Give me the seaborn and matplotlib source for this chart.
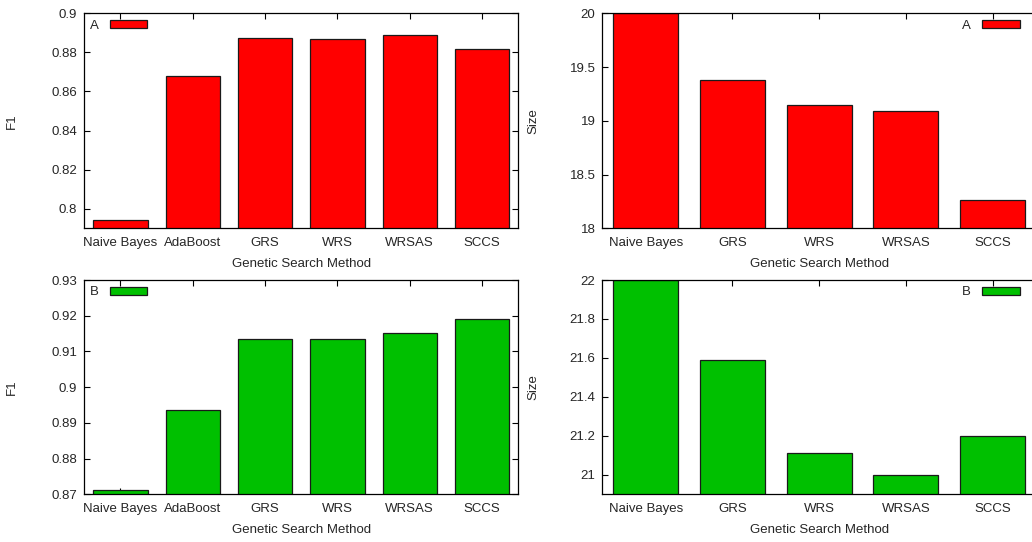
import matplotlib
matplotlib.use("Agg")
import matplotlib.pyplot as plt
import seaborn as sns
import pandas as pd
from matplotlib.patches import Patch

# Methods compared in each panel
methods_f1 = ["Naive Bayes", "AdaBoost", "GRS", "WRS", "WRSAS", "SCCS"]
methods_size = ["Naive Bayes", "GRS", "WRS", "WRSAS", "SCCS"]

# Dataset A
f1_a = [0.794, 0.868, 0.8875, 0.887, 0.889, 0.8815]
size_a = [20.0, 19.375, 19.145, 19.09, 18.265]

# Dataset B
f1_b = [0.8711, 0.8937, 0.9135, 0.9135, 0.9151, 0.9192]
size_b = [22.0, 21.59, 21.11, 21.0, 21.2]

RED = "#ff0000"
GREEN = "#00c000"
TEXT = "#262626"

sns.set_style("ticks")
plt.rcParams["font.family"] = ["Liberation Sans", "DejaVu Sans"]
plt.rcParams["font.size"] = 9

fig = plt.figure(figsize=(10.32, 5.42), dpi=100)
W, H = 1032.0, 542.0


def make_axes(left, top, right, bottom):
    return fig.add_axes([left / W, 1 - bottom / H, (right - left) / W, (bottom - top) / H])


panels = [
    # (axes box in px, categories, values, colour, label, ylim, yticks, ylabel, left column?)
    ((84.3, 13.3, 518.3, 228.3), methods_f1, f1_a, RED, "A", (0.79, 0.9),
     [0.8, 0.82, 0.84, 0.86, 0.88, 0.9], "F1", True),
    ((602.3, 13.3, 1036.0, 228.3), methods_size, size_a, RED, "A", (18, 20),
     [18, 18.5, 19, 19.5, 20], "Size", False),
    ((84.3, 280.0, 518.3, 494.3), methods_f1, f1_b, GREEN, "B", (0.87, 0.93),
     [0.87, 0.88, 0.89, 0.9, 0.91, 0.92, 0.93], "F1", True),
    ((602.3, 280.0, 1036.0, 494.3), methods_size, size_b, GREEN, "B", (20.9, 22),
     [21, 21.2, 21.4, 21.6, 21.8, 22], "Size", False),
]

for box, cats, vals, col, lab, ylim, yticks, ylabel, left_col in panels:
    ax = make_axes(*box)
    df = pd.DataFrame({"method": cats, "value": vals})
    sns.barplot(data=df, x="method", y="value", color=col, saturation=1,
                edgecolor="#1a1a1a", linewidth=0.9, width=0.75, ax=ax)
    ax.set_xlim(-0.5, len(cats) - 0.5)
    ax.set_ylim(*ylim)
    ax.set_yticks(yticks)
    ax.set_yticklabels([f"{t:g}" for t in yticks])
    for s in ax.spines.values():
        s.set_visible(True)
        s.set_color("#000000")
        s.set_linewidth(0.9)
    ax.tick_params(axis="both", direction="in", length=4, width=0.8,
                   top=True, right=left_col, colors="#000000",
                   labelcolor=TEXT, labelsize=9.5, pad=5)
    ax.tick_params(axis="x", pad=6)
    ax.set_xlabel("Genetic Search Method", color=TEXT, fontsize=9.5, labelpad=7)
    ax.set_ylabel(ylabel, color=TEXT, fontsize=9.5, labelpad=24 if left_col else 22)
    handle = Patch(facecolor=col, edgecolor="#1a1a1a", linewidth=0.9, label=lab)
    ax.legend(handles=[handle], loc="upper left" if left_col else "upper right",
              frameon=False, markerfirst=False,
              handlelength=2.85, handleheight=0.55, handletextpad=0.85,
              fontsize=9.5, labelcolor=TEXT, borderaxespad=0.0,
              bbox_to_anchor=(0.0, 0.995) if left_col else (0.975, 0.995))

fig.savefig("out.png", dpi=100)
